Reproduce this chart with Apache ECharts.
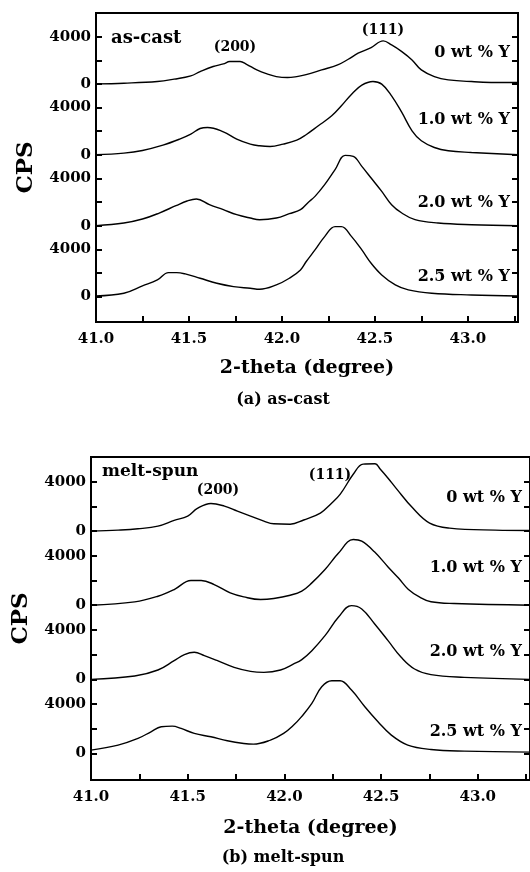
<!DOCTYPE html>
<html>
<head>
<meta charset="utf-8">
<script src="https://cdn.jsdelivr.net/npm/echarts@6/dist/echarts.min.js"></script>
<style>
  html, body { margin: 0; padding: 0; background: #fff; }
  #chart { width: 530px; height: 872px; }
</style>
</head>
<body>
<div id="chart"></div>
<script>
// XRD scans of the (200) and (111) reflections, intensity in CPS vs 2-theta.
// Each scan is shifted upward by STACK_OFFSET counts so the four compositions stack.

const STACK_OFFSET = 6000;
const seriesNames = ['0 wt % Y', '1.0 wt % Y', '2.0 wt % Y', '2.5 wt % Y'];

// ---- (a) as-cast ----
const castTheta0 = [41.00, 41.15, 41.33, 41.42, 41.51, 41.56, 41.63, 41.685, 41.72, 41.775, 41.81, 41.865, 41.92, 41.97, 42.03, 42.08, 42.13, 42.214, 42.30, 42.357, 42.41, 42.48, 42.545, 42.59, 42.645, 42.70, 42.75, 42.82, 42.895, 43.02, 43.20, 43.27];
const castCps0   = [0, 60, 200, 400, 680, 1040, 1470, 1690, 1890, 1890, 1660, 1185, 846, 620, 536, 620, 780, 1185, 1608, 2087, 2594, 3074, 3640, 3300, 2735, 2030, 1185, 620, 338, 197, 113, 113];

const castTheta1 = [41.00, 41.15, 41.25, 41.36, 41.45, 41.51, 41.56, 41.60, 41.685, 41.757, 41.83, 41.88, 41.936, 42.007, 42.08, 42.13, 42.196, 42.268, 42.32, 42.375, 42.43, 42.49, 42.537, 42.59, 42.645, 42.70, 42.75, 42.82, 42.895, 43.02, 43.27];
const castCps1   = [0, 141, 367, 818, 1326, 1749, 2228, 2313, 1946, 1326, 903, 762, 705, 903, 1241, 1700, 2454, 3300, 4146, 5133, 5895, 6205, 5980, 4993, 3582, 2030, 1185, 620, 338, 197, 0];

const castTheta2 = [41.00, 41.15, 41.25, 41.34, 41.43, 41.49, 41.54, 41.61, 41.685, 41.757, 41.83, 41.88, 41.97, 42.04, 42.10, 42.14, 42.178, 42.23, 42.286, 42.34, 42.384, 42.43, 42.48, 42.537, 42.59, 42.645, 42.716, 42.84, 43.02, 43.27];
const castCps2   = [0, 226, 564, 1072, 1692, 2087, 2256, 1777, 1354, 931, 649, 508, 649, 1015, 1354, 1950, 2482, 3470, 4739, 5951, 5867, 5020, 4034, 2905, 1777, 1072, 508, 226, 85, 0];

const castTheta3 = [41.00, 41.15, 41.25, 41.33, 41.39, 41.434, 41.48, 41.56, 41.65, 41.74, 41.83, 41.88, 41.97, 42.04, 42.10, 42.13, 42.178, 42.23, 42.286, 42.32, 42.375, 42.43, 42.48, 42.537, 42.61, 42.68, 42.806, 43.02, 43.27];
const castCps3   = [56, 282, 903, 1410, 2030, 2030, 1918, 1551, 1128, 846, 705, 620, 987, 1551, 2256, 2950, 3949, 5077, 5923, 5923, 5077, 3949, 2820, 1833, 987, 564, 282, 141, 56];

// ---- (b) melt-spun ----
const spunTheta0 = [41.00, 41.14, 41.243, 41.346, 41.43, 41.50, 41.55, 41.62, 41.69, 41.757, 41.825, 41.894, 41.945, 42.03, 42.10, 42.186, 42.24, 42.289, 42.356, 42.407, 42.469, 42.495, 42.535, 42.577, 42.664, 42.751, 42.854, 43.09, 43.27];
const spunCps0   = [0, 81, 189, 405, 864, 1215, 1836, 2241, 2025, 1620, 1215, 810, 594, 560, 900, 1458, 2200, 2997, 4600, 5427, 5450, 5022, 4300, 3483, 1863, 648, 243, 81, 54];

const spunTheta1 = [41.00, 41.226, 41.346, 41.43, 41.517, 41.57, 41.637, 41.72, 41.79, 41.877, 41.945, 42.03, 42.09, 42.142, 42.21, 42.279, 42.356, 42.40, 42.467, 42.536, 42.59, 42.64, 42.70, 42.758, 42.878, 43.27];
const spunCps1   = [0, 270, 729, 1269, 1998, 1998, 1674, 999, 675, 459, 540, 810, 1150, 1809, 2889, 4200, 5320, 5184, 4300, 3100, 2200, 1300, 650, 280, 135, 0];

const spunTheta2 = [41.00, 41.226, 41.346, 41.43, 41.483, 41.534, 41.586, 41.654, 41.74, 41.825, 41.894, 41.98, 42.048, 42.09, 42.142, 42.21, 42.279, 42.347, 42.40, 42.467, 42.536, 42.604, 42.673, 42.758, 42.93, 43.27];
const spunCps2   = [0, 270, 756, 1512, 1998, 2187, 1917, 1512, 972, 648, 567, 756, 1242, 1600, 2322, 3537, 5022, 5967, 5697, 4482, 3132, 1782, 837, 378, 162, 0];

const spunTheta3 = [41.00, 41.14, 41.243, 41.31, 41.363, 41.42, 41.466, 41.534, 41.62, 41.705, 41.79, 41.84, 41.928, 41.996, 42.048, 42.09, 42.142, 42.193, 42.245, 42.288, 42.347, 42.416, 42.484, 42.553, 42.638, 42.758, 42.93, 43.27];
const spunCps3   = [270, 675, 1215, 1755, 2160, 2214, 2025, 1620, 1350, 1026, 810, 756, 1080, 1620, 2295, 3000, 4050, 5400, 5886, 5886, 5130, 3780, 2565, 1485, 675, 324, 189, 108];

// Axis ticks
const xTickValues  = [41.0, 41.25, 41.5, 41.75, 42.0, 42.25, 42.5, 42.75, 43.0, 43.25];
const xLabelValues = [41.0, 41.5, 42.0, 42.5, 43.0];
const countTickLabels = [0, 4000];   // labelled counts on every stacked scan
const countMinorTick = 2000;

const castScans = [[castTheta0, castCps0], [castTheta1, castCps1], [castTheta2, castCps2], [castTheta3, castCps3]];
const spunScans = [[spunTheta0, spunCps0], [spunTheta1, spunCps1], [spunTheta2, spunCps2], [spunTheta3, spunCps3]];

const FONT = 'DejaVu Serif';
const N = seriesNames.length;

// tick / label positions on the stacked count axis
const yTicks = [], yLabels = [];
for (let k = 0; k < N; k++) {
  const base = k * STACK_OFFSET;
  yTicks.push(base + countTickLabels[0], base + countMinorTick, base + countTickLabels[1]);
  countTickLabels.forEach(v => yLabels.push(base + v));
}

function makeXAxis(gridIndex, nameGap) {
  return {
    type: 'value', gridIndex, min: 41.0, max: 43.27,
    name: '2-theta (degree)', nameLocation: 'middle', nameGap,
    nameTextStyle: { fontFamily: FONT, fontWeight: 'bold', fontSize: 19, color: '#000' },
    axisLine: { show: true, onZero: false, lineStyle: { color: '#000', width: 2 } },
    axisTick: { show: true, inside: true, length: 6, customValues: xTickValues, lineStyle: { color: '#000', width: 2 } },
    axisLabel: { customValues: xLabelValues, margin: 10, formatter: v => Number(v).toFixed(1),
      fontFamily: FONT, fontWeight: 'bold', fontSize: 15, color: '#000' },
    splitLine: { show: false }
  };
}

function makeYAxis(gridIndex, position, withLabels) {
  return {
    type: 'value', gridIndex, position, min: -2150, max: 24000,
    name: withLabels ? 'CPS' : '', nameLocation: 'middle', nameGap: 58, nameRotate: 90,
    nameTextStyle: { fontFamily: FONT, fontWeight: 'bold', fontSize: 23, color: '#000' },
    axisLine: { show: true, onZero: false, lineStyle: { color: '#000', width: 2 } },
    axisTick: { show: true, inside: true, length: 6, customValues: yTicks, lineStyle: { color: '#000', width: 2 } },
    axisLabel: { show: withLabels, customValues: yLabels, margin: 5,
      formatter: v => String(Number(v) % STACK_OFFSET),
      fontFamily: FONT, fontWeight: 'bold', fontSize: 15, color: '#000' },
    splitLine: { show: false }
  };
}

function makeSeries(scans, axisIndex) {
  return scans.map(([theta, cps], i) => ({
    name: seriesNames[i],
    type: 'line',
    xAxisIndex: axisIndex, yAxisIndex: axisIndex * 2,
    data: theta.map((t, j) => [t, cps[j] + (N - 1 - i) * STACK_OFFSET]),
    smooth: 0.4,
    showSymbol: false, silent: true,
    lineStyle: { color: '#000', width: 1.4 }
  }));
}

function txt(text, x, y, size, align) {
  return { type: 'text', x, y, silent: true,
    style: { text, fontFamily: FONT, fontWeight: 'bold', fontSize: size, fill: '#000',
      align: align || 'left', verticalAlign: 'middle' } };
}

const chart = echarts.init(document.getElementById('chart'), null, { renderer: 'canvas' });
chart.setOption({
  backgroundColor: '#fff',
  animation: false,
  grid: [
    { left: 96, top: 13, width: 422, height: 309, show: true, borderColor: '#000', borderWidth: 2 },
    { left: 91, top: 457, width: 441, height: 323, show: true, borderColor: '#000', borderWidth: 2 }
  ],
  xAxis: [makeXAxis(0, 37), makeXAxis(1, 39)],
  yAxis: [makeYAxis(0, 'left', true), makeYAxis(0, 'right', false),
          makeYAxis(1, 'left', true), makeYAxis(1, 'right', false)],
  series: [...makeSeries(castScans, 0), ...makeSeries(spunScans, 1)],
  graphic: [
    txt('as-cast', 111, 38, 18),
    txt('(200)', 235, 47, 14, 'center'),
    txt('(111)', 383, 30, 14, 'center'),
    txt(seriesNames[0], 510, 53, 16, 'right'),
    txt(seriesNames[1], 510, 120, 16, 'right'),
    txt(seriesNames[2], 510, 203, 16, 'right'),
    txt(seriesNames[3], 510, 277, 16, 'right'),
    txt('(a) as-cast', 283, 400, 16, 'center'),

    txt('melt-spun', 102, 472, 17),
    txt('(200)', 218, 490, 14, 'center'),
    txt('(111)', 330, 475, 14, 'center'),
    txt(seriesNames[0], 522, 498, 16, 'right'),
    txt(seriesNames[1], 522, 568, 16, 'right'),
    txt(seriesNames[2], 522, 652, 16, 'right'),
    txt(seriesNames[3], 522, 732, 16, 'right'),
    txt('(b) melt-spun', 283, 858, 16, 'center')
  ]
});
</script>
</body>
</html>
